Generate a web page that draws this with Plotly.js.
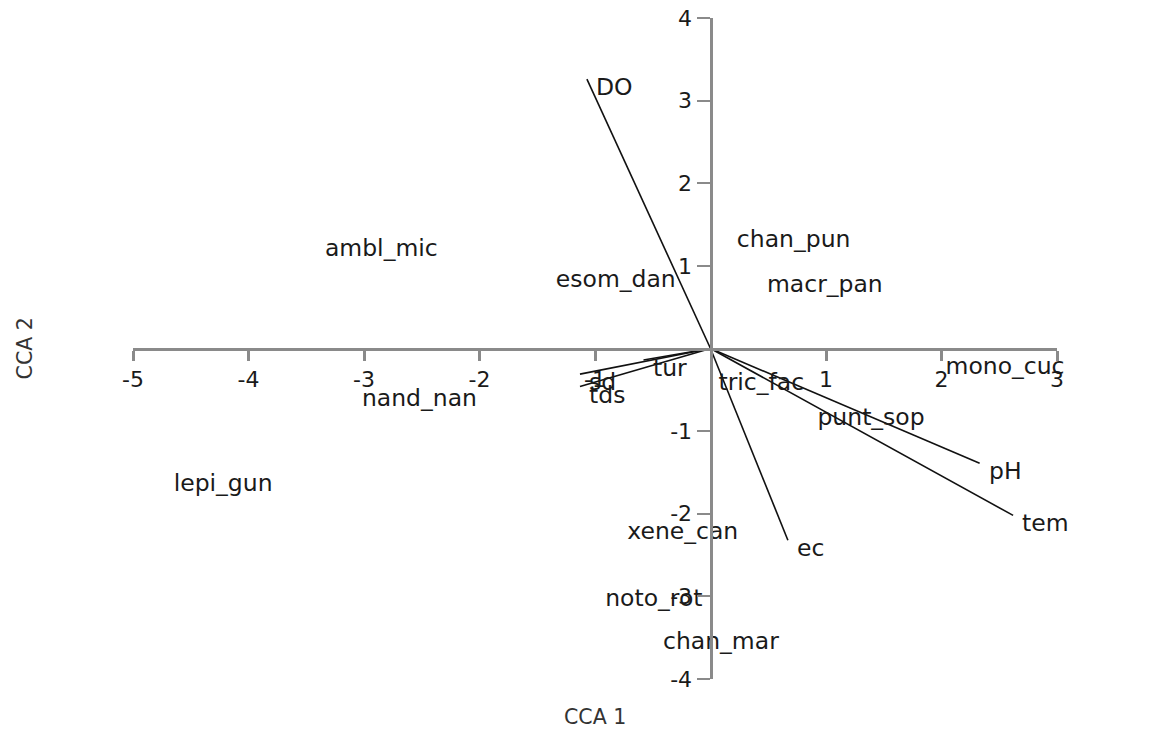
<!DOCTYPE html>
<html>
<head>
<meta charset="utf-8">
<script src="https://cdn.plot.ly/plotly-3.0.1.min.js"></script>
<style>html,body{margin:0;padding:0;background:#fff;}#chart{width:1174px;height:753px;}</style>
</head>
<body>
<div id="chart"></div>
<script>
// Environmental variables (vector tips, CCA1 / CCA2)
const envNames = ["DO", "tur", "sd", "tds", "pH", "tem", "ec"];
const envX = [-1.07, -0.58, -1.13, -1.13, 2.33, 2.62, 0.67];
const envY = [3.26, -0.14, -0.31, -0.46, -1.39, -2.02, -2.32];

// Species scores (CCA1 / CCA2)
const spNames = ["ambl_mic", "esom_dan", "chan_pun", "macr_pan", "hete_fos", "mono_cuc",
                 "tric_fac", "punt_sop", "nand_nan", "lepi_gun", "xene_can", "noto_rot", "chan_mar"];
const spX = [-2.85, -0.82, 0.72, 0.99, 3.42, 2.55, 0.44, 1.39, -2.52, -4.22, -0.24, -0.49, 0.09];
const spY = [1.19, 0.82, 1.30, 0.76, 1.45, -0.24, -0.43, -0.85, -0.63, -1.65, -2.23, -3.04, -3.57];

// Axis ticks (the origin is left unlabelled)
const xTicks = [-5, -4, -3, -2, -1, 1, 2, 3];
const yTicks = [-4, -3, -2, -1, 1, 2, 3, 4];

const lineX = [], lineY = [];
envX.forEach((x, i) => { lineX.push(0, x, null); lineY.push(0, envY[i], null); });

const labelFont = {family: "DejaVu Sans", size: 23.5, color: "#1a1a1a"};

const traces = [
  {
    x: lineX, y: lineY, mode: "lines", type: "scatter",
    line: {color: "#111", width: 1.6}, hoverinfo: "skip", showlegend: false
  },
  {
    x: spX, y: spY, text: spNames, mode: "text", type: "scatter",
    textposition: "middle center", cliponaxis: false,
    textfont: labelFont,
    hoverinfo: "skip", showlegend: false
  }
];

const annotations = envNames.map((n, i) => ({
  x: envX[i], y: envY[i], xref: "x", yref: "y", text: n, showarrow: false,
  xanchor: "left", yanchor: "middle", xshift: 7, yshift: -8,
  font: labelFont
}));
annotations.push({
  x: 0.5, y: -0.0575, xref: "paper", yref: "paper", text: "CCA 1", showarrow: false,
  xanchor: "center", yanchor: "middle",
  font: {family: "DejaVu Sans", size: 20.5, color: "#333"}
});
annotations.push({
  x: -0.117, y: 0.5, xref: "paper", yref: "paper", text: "CCA 2", showarrow: false,
  textangle: -90, xanchor: "center", yanchor: "middle",
  font: {family: "DejaVu Sans", size: 20.5, color: "#333"}
});

const layout = {
  width: 1174, height: 753,
  margin: {l: 133, r: 117, t: 18, b: 74, pad: 0},
  paper_bgcolor: "#fff", plot_bgcolor: "#fff",
  xaxis: {
    range: [-5, 3], anchor: "free", position: 0.5,
    showgrid: false, zeroline: false, showline: true,
    linecolor: "#8a8a8a", linewidth: 3,
    ticks: "outside", ticklen: 10, tickwidth: 3, tickcolor: "#8a8a8a",
    tickmode: "array", tickvals: xTicks, ticktext: xTicks.map(String),
    ticklabelstandoff: 0,
    tickfont: {family: "DejaVu Sans", size: 22, color: "#1a1a1a"}
  },
  yaxis: {
    range: [-4, 4], anchor: "free", position: 0.625,
    showgrid: false, zeroline: false, showline: true,
    linecolor: "#8a8a8a", linewidth: 3,
    ticks: "outside", ticklen: 13, tickwidth: 2, tickcolor: "#8a8a8a",
    tickmode: "array", tickvals: yTicks, ticktext: yTicks.map(String),
    tickfont: {family: "DejaVu Sans", size: 22, color: "#1a1a1a"}
  },
  annotations: annotations,
  showlegend: false
};

Plotly.newPlot("chart", traces, layout, {displayModeBar: false, staticPlot: true});
</script>
</body>
</html>
